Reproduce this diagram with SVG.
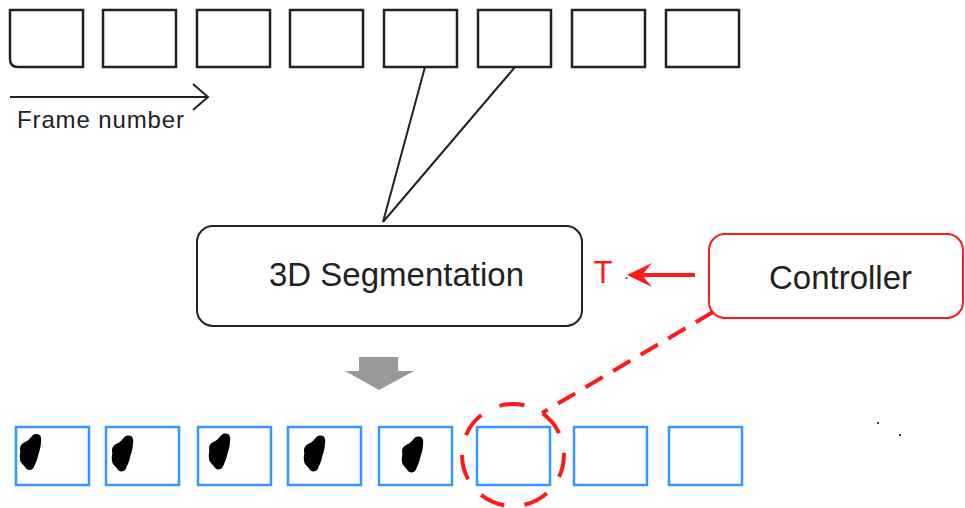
<svg xmlns="http://www.w3.org/2000/svg" width="965" height="508" viewBox="0 0 965 508">
  <style>
    .frame { fill: #fff; stroke: #222; stroke-width: 2.5; }
    .out { fill: #fff; stroke: #3399ff; stroke-width: 2.5; }
    .txt { font-family: "Liberation Sans", Arial, sans-serif; fill: #222; }
    .conn { fill: none; stroke: #222; stroke-width: 2; }
    .red { fill: none; stroke: #ff1a1a; stroke-width: 4; }
    .blob { fill: #000; }
  </style>
  <defs>
    <path id="blob" d="M 6,-18 C 9,-18 11,-15 10,-10 C 10,-5 8,0 7,4 C 6,9 4,12 3,15 C 1,19 -4,19 -6,15 C -7,13 -11,11 -11,7 C -12,3 -10,0 -11,-3 C -11,-7 -8,-9 -6,-10 C -3,-11 -1,-14 1,-16 C 3,-18 4,-18 6,-18 Z"/>
  </defs>
  <rect width="965" height="508" fill="#fff"/>

  <g id="input-frames">
    <path class="frame" d="M10,10 H83 V67 H18 Q10,67 10,59 Z"/>
    <rect class="frame" x="103" y="10" width="73" height="57"/>
    <rect class="frame" x="197" y="10" width="73" height="57"/>
    <rect class="frame" x="290" y="10" width="73" height="57"/>
    <rect class="frame" x="384" y="10" width="73" height="57"/>
    <rect class="frame" x="478" y="10" width="73" height="57"/>
    <rect class="frame" x="572" y="10" width="73" height="57"/>
    <rect class="frame" x="666" y="10" width="73" height="57"/>
  </g>

  <g id="frame-axis">
    <path class="conn" d="M10,97 H207 M193,84 L208,97 L193,110"/>
    <text class="txt" x="17" y="128" font-size="24" textLength="167">Frame number</text>
  </g>

  <g id="segmentation">
    <rect x="197" y="226" width="385" height="100" rx="16" fill="#fff" stroke="#222" stroke-width="2"/>
    <text class="txt" x="396.5" y="286" font-size="33" text-anchor="middle">3D Segmentation</text>
  </g>

  <g id="controller">
    <rect x="709" y="234" width="254" height="84" rx="16" fill="#fff" stroke="#ff1a1a" stroke-width="2"/>
    <text class="txt" x="840.5" y="289" font-size="33" text-anchor="middle">Controller</text>
  </g>

  <g id="param-T">
    <text x="603" y="283" font-size="31" text-anchor="middle" font-family="Liberation Sans, Arial, sans-serif" fill="#ff1a1a">T</text>
  </g>

  <g id="output-frames">
    <rect class="out" x="16" y="427" width="73" height="58"/>
    <rect class="out" x="106" y="427" width="73" height="58"/>
    <rect class="out" x="198" y="427" width="73" height="58"/>
    <rect class="out" x="288" y="427" width="73" height="58"/>
    <rect class="out" x="379" y="427" width="73" height="58"/>
    <rect class="out" x="477" y="427" width="73" height="58"/>
    <rect class="out" x="574" y="427" width="73" height="58"/>
    <rect class="out" x="669" y="427" width="73" height="58"/>
    <use href="#blob" class="blob" transform="translate(31,452)"/>
    <use href="#blob" class="blob" transform="translate(123,453.5)"/>
    <use href="#blob" class="blob" transform="translate(220,451.5)"/>
    <use href="#blob" class="blob" transform="translate(315,453.5)"/>
    <use href="#blob" class="blob" transform="translate(413,454.5)"/>
  </g>

  <g id="connectors">
    <path class="conn" d="M425,67 L383,222 M515,67 L383,222"/>
    <polygon points="359,357 398,357 398,371 414,371 379,390 345,371 359,371" fill="#999"/>
    <line class="red" x1="695" y1="275" x2="642" y2="275"/>
    <polygon points="627,275 652,263 642,275 652,287" fill="#ff1a1a"/>
    <circle cx="626.5" cy="278" r="1" fill="#333"/>
    <line class="red" x1="713" y1="312" x2="542" y2="413" stroke-dasharray="20 12"/>
    <circle class="red" cx="513" cy="455" r="51" stroke-dasharray="25.4 20.37" stroke-dashoffset="2.7"/>
  </g>

  <g id="specks">
    <rect x="877" y="422" width="2" height="2" fill="#444"/>
    <rect x="899" y="434" width="2" height="2" fill="#444"/>
  </g>
</svg>
